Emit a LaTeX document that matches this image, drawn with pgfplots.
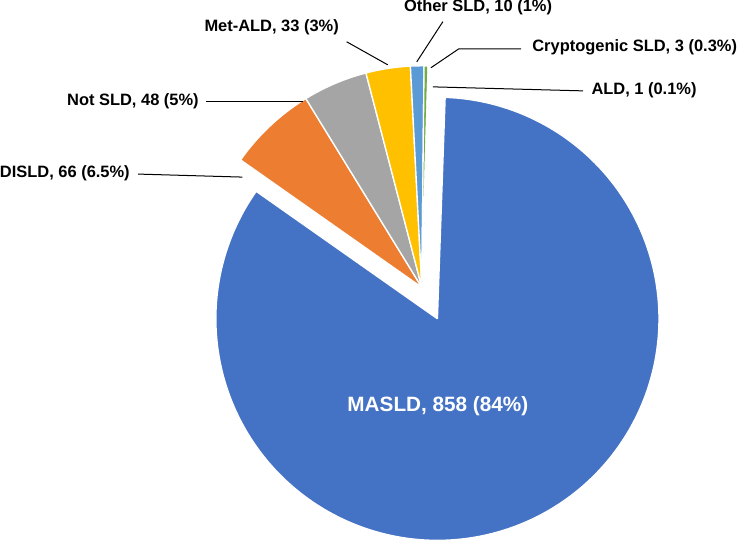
\documentclass[border=0pt]{standalone}
\usepackage{pgfplots}
\usepackage{pgfplotstable}
\pgfplotsset{compat=1.18}
\usepackage{fontspec}
\setmainfont{Liberation Sans}
\definecolor{s0}{HTML}{4472C4}
\definecolor{s1}{HTML}{ED7D31}
\definecolor{s2}{HTML}{A5A5A5}
\definecolor{s3}{HTML}{FFC000}
\definecolor{s4}{HTML}{5B9BD5}
\definecolor{s5}{HTML}{70AD47}
\definecolor{s6}{HTML}{264478}
\pgfplotstableread{
name value
MASLD 858
DISLD 66
NotSLD 48
MetALD 33
OtherSLD 10
CryptogenicSLD 3
ALD 1
}\piedata
\newcommand\lab{\fontsize{12.3}{14}\selectfont\bfseries}
\def\CX{421}\def\CY{253}\def\rad{221}\def\startang{2}\def\explode{35}
\begin{document}
\begin{tikzpicture}
\def\tot{0}
\foreach \i in {0,...,6}{%
  \pgfplotstablegetelem{\i}{value}\of\piedata
  \pgfmathsetmacro\tmp{\tot+\pgfplotsretval}%
  \xdef\tot{\tmp}%
}
\gdef\cum{0}
\begin{axis}[scale only axis, width=552.75pt, height=405pt,
  xmin=0, xmax=737, ymin=0, ymax=540, hide axis, clip=false]
\foreach \i in {0,...,6}{%
  \pgfplotstablegetelem{\i}{value}\of\piedata
  \let\vA\pgfplotsretval
  \pgfmathsetmacro\sA{\startang+\cum/\tot*360}%
  \pgfmathsetmacro\newcum{\cum+\vA}%
  \xdef\cum{\newcum}%
  \pgfmathsetmacro\eA{\startang+\cum/\tot*360}%
  \pgfmathsetmacro\mA{(\sA+\eA)/2}%
  \ifnum\i=0 \def\ex{\explode}\else\def\ex{0}\fi
  \pgfmathsetmacro\cx{\CX+\ex*sin(\mA)}%
  \pgfmathsetmacro\cy{\CY+\ex*cos(\mA)}%
  \pgfmathtruncatemacro\N{max(4,(\eA-\sA)/1.5)}%
  \pgfmathsetmacro\stepA{(\eA-\sA)/\N}%
  \pgfmathsetmacro\sa{\sA-0.5}%
  \pgfmathsetmacro\ea{\eA+0.5}%
  \xdef\lst{\sa}%
  \foreach \k in {0,...,\N}{%
    \pgfmathsetmacro\tA{\sA+\stepA*\k}%
    \xdef\lst{\lst,\tA}%
  }%
  \xdef\lst{\lst,\ea}%
  \edef\temp{\noexpand\addplot[fill=s\i, draw=white, line width=1pt, line join=round, samples at={\lst}]
    ({\cx+\rad*sin(x)*(x>\sA-0.25)*(x<\eA+0.25)}, {\cy+\rad*cos(x)*(x>\sA-0.25)*(x<\eA+0.25)});}%
  \temp
}
% leader lines
\addplot[black, line width=0.75pt] coordinates {(442,518) (416,478)};
\addplot[black, line width=0.75pt] coordinates {(520,491) (458,491) (430,472)};
\addplot[black, line width=0.75pt] coordinates {(582,449) (432,453)};
\addplot[black, line width=0.75pt] coordinates {(346,498) (387,475)};
\addplot[black, line width=0.75pt] coordinates {(206,438) (302,438)};
\addplot[black, line width=0.75pt] coordinates {(138,366) (242,363)};
% labels
\node[anchor=west, inner sep=0pt, font=\lab] at (axis cs:403,532) {Other SLD, 10 (1\%)};
\node[anchor=west, inner sep=0pt, font=\lab] at (axis cs:531,492) {Cryptogenic SLD, 3 (0.3\%)};
\node[anchor=west, inner sep=0pt, font=\lab] at (axis cs:590,450) {ALD, 1 (0.1\%)};
\node[anchor=west, inner sep=0pt, font=\lab] at (axis cs:204,512) {Met-ALD, 33 (3\%)};
\node[anchor=west, inner sep=0pt, font=\lab] at (axis cs:67,439) {Not SLD, 48 (5\%)};
\node[anchor=west, inner sep=0pt, font=\lab] at (axis cs:0,367) {DISLD, 66 (6.5\%)};
\node[anchor=center, inner sep=0pt, text=white, font={\fontsize{15.5}{18}\selectfont\bfseries}] at (axis cs:437,135) {MASLD, 858 (84\%)};
\end{axis}
\end{tikzpicture}
\end{document}
